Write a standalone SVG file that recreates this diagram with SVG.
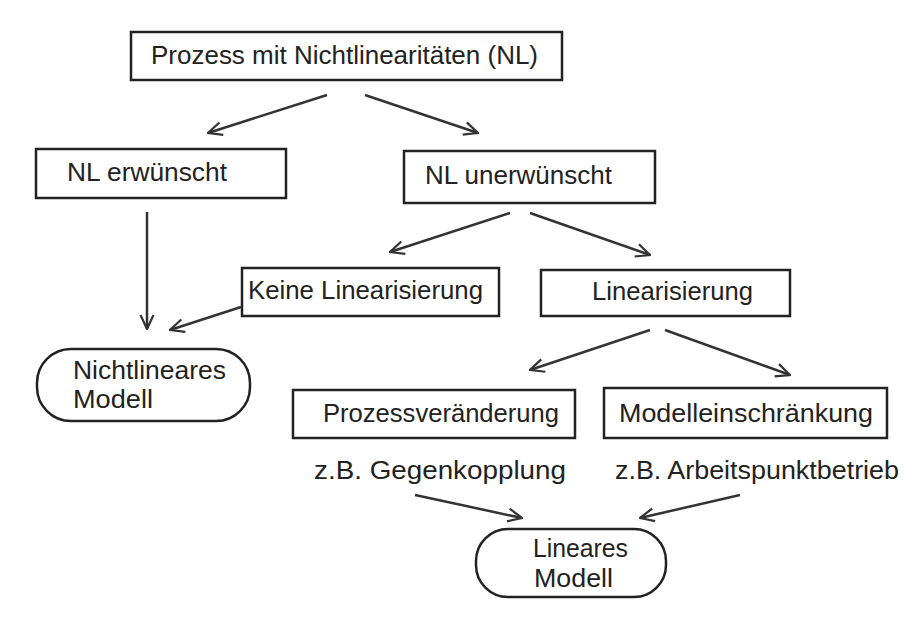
<svg xmlns="http://www.w3.org/2000/svg" width="919" height="624" viewBox="0 0 919 624">
<style>
.box{fill:#fff;stroke:#222;stroke-width:2.5}
.t{font-family:"Liberation Sans","DejaVu Sans",sans-serif;font-size:25px;fill:#222}
.conn line{stroke:#333;stroke-width:2.5;marker-end:url(#ah)}
</style>
<defs>
<marker id="ah" viewBox="0 0 16 16" refX="15" refY="8" markerWidth="16" markerHeight="16" orient="auto" markerUnits="userSpaceOnUse">
<path d="M1,1.5 L15,8 L1,14.5" fill="none" stroke="#333" stroke-width="2.2"/>
</marker>
</defs>
<rect width="919" height="624" fill="#fff"/>
<g id="n_prozess"><rect class="box" x="131" y="32" width="431" height="48"/><text class="t" x="151" y="64" textLength="387" lengthAdjust="spacingAndGlyphs">Prozess mit Nichtlinearitäten (NL)</text></g>
<g id="n_erwuenscht"><rect class="box" x="36" y="149" width="250" height="49"/><text class="t" x="67" y="181" textLength="160" lengthAdjust="spacingAndGlyphs">NL erwünscht</text></g>
<g id="n_unerwuenscht"><rect class="box" x="404" y="151" width="251" height="52"/><text class="t" x="425" y="184" textLength="187" lengthAdjust="spacingAndGlyphs">NL unerwünscht</text></g>
<g id="n_keine"><rect class="box" x="242" y="268" width="257" height="48"/><text class="t" x="248" y="299" textLength="235" lengthAdjust="spacingAndGlyphs">Keine Linearisierung</text></g>
<g id="n_lin"><rect class="box" x="541" y="270" width="249" height="46"/><text class="t" x="592" y="300" textLength="161" lengthAdjust="spacingAndGlyphs">Linearisierung</text></g>
<g id="n_nlmodell"><rect class="box" x="37" y="349" width="213" height="72" rx="34"/><text class="t" x="73" y="379" textLength="153" lengthAdjust="spacingAndGlyphs">Nichtlineares</text><text class="t" x="73" y="408" textLength="80" lengthAdjust="spacingAndGlyphs">Modell</text></g>
<g id="n_prozessv"><rect class="box" x="293" y="390" width="282" height="48"/><text class="t" x="323" y="422" textLength="236" lengthAdjust="spacingAndGlyphs">Prozessveränderung</text></g>
<g id="n_modelle"><rect class="box" x="604" y="388" width="283" height="50"/><text class="t" x="619" y="422" textLength="254" lengthAdjust="spacingAndGlyphs">Modelleinschränkung</text></g>
<g id="n_gegen"><text class="t" x="314" y="479" textLength="252" lengthAdjust="spacingAndGlyphs">z.B. Gegenkopplung</text></g>
<g id="n_arbeit"><text class="t" x="615" y="479" textLength="284" lengthAdjust="spacingAndGlyphs">z.B. Arbeitspunktbetrieb</text></g>
<g id="n_linmodell"><rect class="box" x="476" y="529" width="190" height="68" rx="32"/><text class="t" x="533" y="557" textLength="95" lengthAdjust="spacingAndGlyphs">Lineares</text><text class="t" x="534" y="587" textLength="79" lengthAdjust="spacingAndGlyphs">Modell</text></g>
<g id="connectors" class="conn">
<line x1="327" y1="95" x2="208" y2="133"/>
<line x1="365" y1="95" x2="478" y2="133"/>
<line x1="147" y1="212" x2="147" y2="329"/>
<line x1="510" y1="213" x2="390" y2="252"/>
<line x1="530" y1="213" x2="650" y2="255"/>
<line x1="241" y1="307" x2="170" y2="330"/>
<line x1="650" y1="330" x2="530" y2="370"/>
<line x1="665" y1="330" x2="790" y2="375"/>
<line x1="415" y1="495" x2="522" y2="518"/>
<line x1="740" y1="495" x2="640" y2="518"/>
</g>
</svg>
